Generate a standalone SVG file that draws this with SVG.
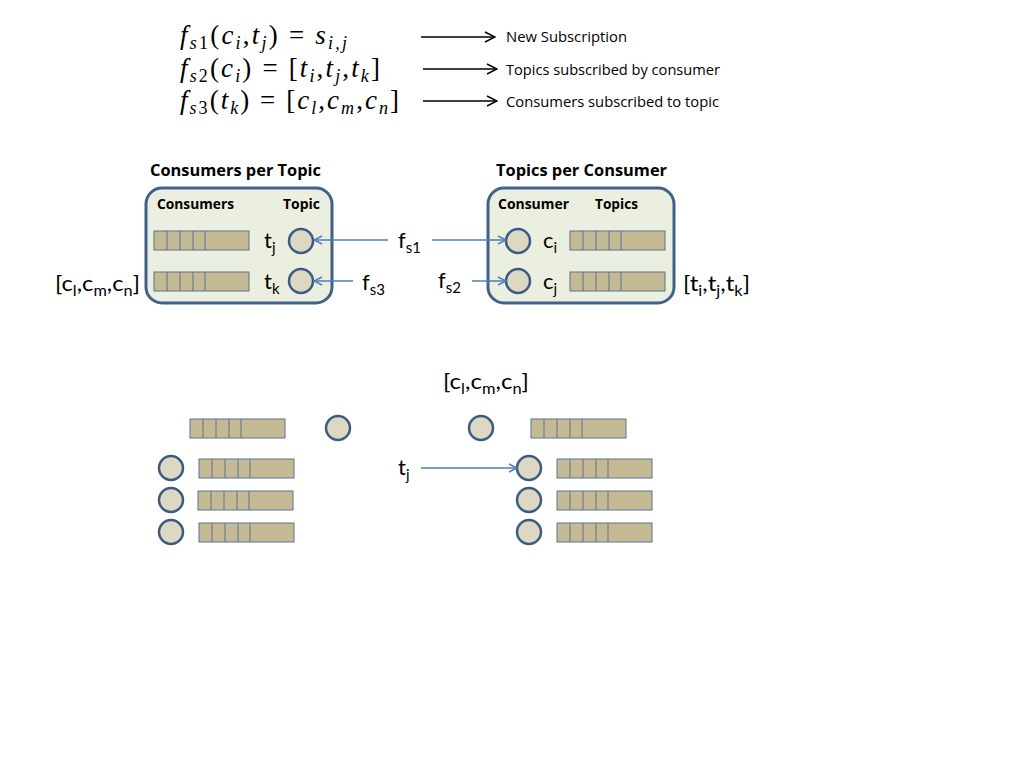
<svg xmlns="http://www.w3.org/2000/svg" xmlns:xlink="http://www.w3.org/1999/xlink" width="1024" height="768" viewBox="0 0 1024 768">
<style>
.eq{font-family:"Liberation Serif","DejaVu Serif",serif;font-size:27px;fill:#000}
.i{font-style:italic}
.desc{font-family:"Open Sans","Liberation Sans",sans-serif;font-size:14px;fill:#000}
.head{font-family:"Open Sans","Liberation Sans",sans-serif;font-size:16px;font-weight:bold;fill:#000}
.col{font-family:"Open Sans","Liberation Sans",sans-serif;font-size:14px;font-weight:bold;fill:#000}
.lbl{font-family:"Lato","Open Sans","Liberation Sans",sans-serif;font-size:22px;fill:#000}
.box{fill:#ebefdf;stroke:#41608a;stroke-width:3}
.circ{fill:#ddd8c2;stroke:#3b5b85;stroke-width:2.5}
.barr{fill:#c4bb95;stroke:#5d7090;stroke-width:1}
.ba{stroke:#4a7ebb;stroke-width:1.4;fill:none}
.ka{stroke:#000;stroke-width:1.4;fill:none}
</style>
<defs>
<marker id="bh" viewBox="0 0 10 10" refX="9" refY="5" markerWidth="10" markerHeight="10" markerUnits="userSpaceOnUse" orient="auto">
<path d="M1,1 L9,5 L1,9" fill="none" stroke="#4a7ebb" stroke-width="1.4"/>
</marker>
<marker id="kh" viewBox="0 0 12 12" refX="11" refY="6" markerWidth="12" markerHeight="12" markerUnits="userSpaceOnUse" orient="auto">
<path d="M1,1 L11,6 L1,11" fill="none" stroke="#000" stroke-width="1.4"/>
</marker>
<g id="bar">
<rect class="barr" x="0" y="0" width="95" height="19"/>
<path d="M13,0V19M26,0V19M39,0V19M51,0V19" stroke="#5d7090" stroke-width="1"/>
</g>
<circle id="cir" class="circ" cx="0" cy="0" r="12"/>
</defs>

<g id="equations">
<text class="eq" x="180" y="44" textLength="167" lengthAdjust="spacing"><tspan class="i">f</tspan><tspan class="i" font-size="18" dy="5">s</tspan><tspan font-size="18">1</tspan><tspan dy="-5">(</tspan><tspan class="i">c</tspan><tspan class="i" font-size="18" dy="5">i</tspan><tspan dy="-5">,</tspan><tspan class="i">t</tspan><tspan class="i" font-size="18" dy="5">j</tspan><tspan dy="-5">) = </tspan><tspan class="i">s</tspan><tspan class="i" font-size="18" dy="5">i,j</tspan></text>
<text class="eq" x="180" y="77" textLength="200" lengthAdjust="spacing"><tspan class="i">f</tspan><tspan class="i" font-size="18" dy="5">s</tspan><tspan font-size="18">2</tspan><tspan dy="-5">(</tspan><tspan class="i">c</tspan><tspan class="i" font-size="18" dy="5">i</tspan><tspan dy="-5">) = [</tspan><tspan class="i">t</tspan><tspan class="i" font-size="18" dy="5">i</tspan><tspan dy="-5">,</tspan><tspan class="i">t</tspan><tspan class="i" font-size="18" dy="5">j</tspan><tspan dy="-5">,</tspan><tspan class="i">t</tspan><tspan class="i" font-size="18" dy="5">k</tspan><tspan dy="-5">]</tspan></text>
<text class="eq" x="180" y="109" textLength="219" lengthAdjust="spacing"><tspan class="i">f</tspan><tspan class="i" font-size="18" dy="5">s</tspan><tspan font-size="18">3</tspan><tspan dy="-5">(</tspan><tspan class="i">t</tspan><tspan class="i" font-size="18" dy="5">k</tspan><tspan dy="-5">) = [</tspan><tspan class="i">c</tspan><tspan class="i" font-size="18" dy="5">l</tspan><tspan dy="-5">,</tspan><tspan class="i">c</tspan><tspan class="i" font-size="18" dy="5">m</tspan><tspan dy="-5">,</tspan><tspan class="i">c</tspan><tspan class="i" font-size="18" dy="5">n</tspan><tspan dy="-5">]</tspan></text>
<text class="desc" x="506" y="42" textLength="121" lengthAdjust="spacingAndGlyphs">New Subscription</text>
<text class="desc" x="506" y="75" textLength="214" lengthAdjust="spacingAndGlyphs">Topics subscribed by consumer</text>
<text class="desc" x="506" y="107" textLength="213" lengthAdjust="spacingAndGlyphs">Consumers subscribed to topic</text>
</g>

<g id="consumers-per-topic">
<text class="head" x="150" y="176" textLength="171" lengthAdjust="spacingAndGlyphs">Consumers per Topic</text>
<rect class="box" x="146" y="188" width="186" height="115" rx="16"/>
<text class="col" x="157" y="209" textLength="77" lengthAdjust="spacingAndGlyphs">Consumers</text>
<text class="col" x="283" y="209" textLength="37" lengthAdjust="spacingAndGlyphs">Topic</text>
<use xlink:href="#bar" x="154" y="231"/>
<use xlink:href="#bar" x="154" y="272"/>
<text class="lbl" x="264" y="248">t<tspan font-size="15" dy="5">j</tspan></text>
<text class="lbl" x="264" y="289">t<tspan font-size="15" dy="5">k</tspan></text>
<use xlink:href="#cir" x="301" y="241"/>
<use xlink:href="#cir" x="301" y="281"/>
</g>

<g id="topics-per-consumer">
<text class="head" x="496" y="176" textLength="171" lengthAdjust="spacingAndGlyphs">Topics per Consumer</text>
<rect class="box" x="488" y="188" width="186" height="115" rx="16"/>
<text class="col" x="498" y="209" textLength="71" lengthAdjust="spacingAndGlyphs">Consumer</text>
<text class="col" x="595" y="209" textLength="43" lengthAdjust="spacingAndGlyphs">Topics</text>
<use xlink:href="#cir" x="518" y="241"/>
<use xlink:href="#cir" x="518" y="281"/>
<text class="lbl" x="543" y="248">c<tspan font-size="15" dy="5">i</tspan></text>
<text class="lbl" x="543" y="289">c<tspan font-size="15" dy="5">j</tspan></text>
<use xlink:href="#bar" x="570" y="231"/>
<use xlink:href="#bar" x="570" y="272"/>
</g>

<g id="labels">
<text class="lbl" x="55" y="291" textLength="85" lengthAdjust="spacingAndGlyphs">[c<tspan font-size="15" dy="5">l</tspan><tspan dy="-5">,c</tspan><tspan font-size="15" dy="5">m</tspan><tspan dy="-5">,c</tspan><tspan font-size="15" dy="5">n</tspan><tspan dy="-5">]</tspan></text>
<text class="lbl" x="683" y="291" textLength="67" lengthAdjust="spacingAndGlyphs">[t<tspan font-size="15" dy="5">i</tspan><tspan dy="-5">,t</tspan><tspan font-size="15" dy="5">j</tspan><tspan dy="-5">,t</tspan><tspan font-size="15" dy="5">k</tspan><tspan dy="-5">]</tspan></text>
<text class="lbl" x="398" y="248">f<tspan font-size="15" dy="5">s1</tspan></text>
<text class="lbl" x="362" y="290">f<tspan font-size="15" dy="5">s3</tspan></text>
<text class="lbl" x="438" y="288">f<tspan font-size="15" dy="5">s2</tspan></text>
<text class="lbl" x="443" y="389" textLength="86" lengthAdjust="spacingAndGlyphs">[c<tspan font-size="15" dy="5">l</tspan><tspan dy="-5">,c</tspan><tspan font-size="15" dy="5">m</tspan><tspan dy="-5">,c</tspan><tspan font-size="15" dy="5">n</tspan><tspan dy="-5">]</tspan></text>
<text class="lbl" x="398" y="475">t<tspan font-size="15" dy="5">j</tspan></text>
</g>

<g id="bottom-left">
<use xlink:href="#bar" x="190" y="419"/>
<use xlink:href="#cir" x="338" y="428"/>
<use xlink:href="#cir" x="171" y="468"/>
<use xlink:href="#cir" x="171" y="500"/>
<use xlink:href="#cir" x="171" y="532"/>
<use xlink:href="#bar" x="199" y="459"/>
<use xlink:href="#bar" x="198" y="491"/>
<use xlink:href="#bar" x="199" y="523"/>
</g>

<g id="bottom-right">
<use xlink:href="#cir" x="481" y="428"/>
<use xlink:href="#bar" x="531" y="419"/>
<use xlink:href="#cir" x="529" y="468"/>
<use xlink:href="#cir" x="529" y="500"/>
<use xlink:href="#cir" x="529" y="532"/>
<use xlink:href="#bar" x="557" y="459"/>
<use xlink:href="#bar" x="557" y="491"/>
<use xlink:href="#bar" x="557" y="523"/>
</g>

<g id="connectors">
<line class="ka" x1="421" y1="37" x2="495" y2="37" marker-end="url(#kh)"/>
<line class="ka" x1="423" y1="69" x2="497" y2="69" marker-end="url(#kh)"/>
<line class="ka" x1="423" y1="101" x2="497" y2="101" marker-end="url(#kh)"/>
<line class="ba" x1="388" y1="240" x2="314" y2="240" marker-end="url(#bh)"/>
<line class="ba" x1="353" y1="281" x2="314" y2="281" marker-end="url(#bh)"/>
<line class="ba" x1="432" y1="240" x2="506" y2="240" marker-end="url(#bh)"/>
<line class="ba" x1="472" y1="281" x2="506" y2="281" marker-end="url(#bh)"/>
<line class="ba" x1="421" y1="468" x2="517" y2="468" marker-end="url(#bh)"/>
</g>
</svg>
